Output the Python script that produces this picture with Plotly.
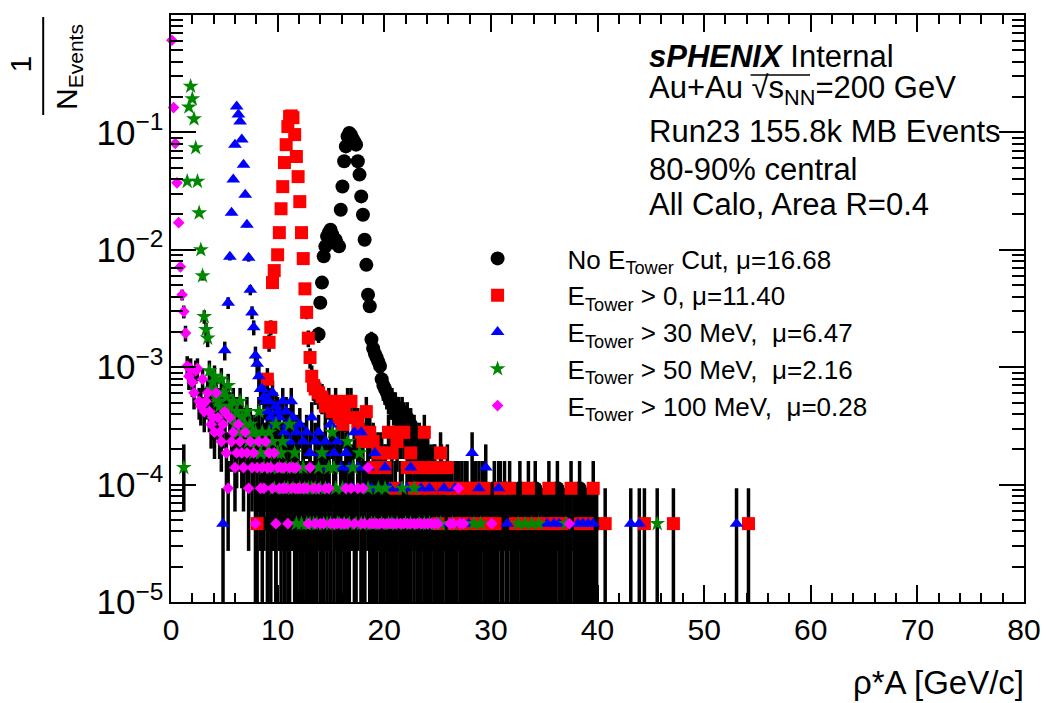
import math
import plotly.graph_objects as go

# normalisation: number of events in the 80-90% class
N_EVENTS = 21500

# ---------------- data: bin centre [GeV/c] and raw entries ----------------
# No E_Tower cut
nocut_x = [8.56, 9.04, 9.36, 9.84, 10.32, 10.64, 11.12, 11.60, 12.08, 12.40, 12.72, 13.20,
           13.52,
           13.84, 14.00, 14.16, 14.32, 14.48, 14.64, 14.80, 14.96, 15.12, 15.28, 15.44, 15.60,
           15.76, 15.92, 16.08, 16.24, 16.40, 16.56, 16.72, 16.88, 17.04, 17.20, 17.36, 17.52,
           17.68, 17.84, 18.00, 18.16, 18.32, 18.48, 18.64, 18.80, 18.96, 19.12, 19.28, 19.44,
           19.60, 19.76, 19.92, 20.08, 20.24, 20.40, 20.56, 20.72, 20.88, 21.04, 21.20, 21.36,
           21.52, 21.68, 21.84, 22.00, 22.16, 22.32, 22.48, 22.64, 22.80, 22.96, 23.12, 23.28,
           23.44, 23.60, 23.76, 23.92, 24.08, 24.24, 24.40, 24.56, 24.72, 24.88, 25.04, 25.20,
           25.36, 25.52, 25.68, 25.84, 26.00, 26.16, 26.32, 26.48, 26.64, 26.80, 26.96, 27.12,
           27.28, 27.44, 27.60, 27.76, 27.92, 28.08, 28.24, 28.40, 28.56, 28.72, 29.04, 29.20,
           29.36, 29.52, 29.68, 30.00, 30.16, 30.32, 30.48, 30.64, 30.96, 31.12, 31.28, 31.44,
           31.60, 31.92, 32.08, 32.24, 32.40, 32.72, 32.88, 33.04, 33.36, 33.52, 33.68, 34.00,
           34.16, 34.32, 34.64, 34.80, 34.96, 35.28, 35.60, 35.76, 36.08, 36.24, 36.56, 36.72,
           37.04, 37.20, 37.52, 37.84, 38.00, 38.32, 38.48, 38.80, 38.96, 39.28, 39.44, 39.76,
           39.92]
nocut_n = [1, 1, 1, 1, 1, 1, 1, 1, 1, 1, 1, 1,
           1,
           41, 76, 113, 189, 230, 280, 300, 319, 290, 250, 262, 240,
           230, 472, 745, 1220, 1634, 1990, 2130, 2050, 1900, 1790, 1690, 1220,
           940, 613, 428, 262, 160, 89, 71, 37, 31, 28, 26, 24,
           22, 17, 15, 14, 13, 12, 11, 11, 10, 10, 9, 9,
           8, 9, 8, 7, 8, 6, 7, 5, 6, 5, 4, 5,
           4, 3, 4, 3, 4, 2, 3, 2, 3, 2, 2, 1,
           3, 1, 2, 1, 2, 1, 2, 1, 1, 1, 2, 1,
           2, 1, 1, 2, 1, 1, 1, 2, 1, 1, 1, 2,
           1, 1, 1, 1, 1, 2, 1, 1, 1, 1, 2, 1,
           1, 1, 1, 1, 1, 2, 1, 1, 1, 1, 1, 1,
           2, 1, 1, 1, 1, 1, 1, 1, 1, 2, 1, 1,
           1, 1, 1, 1, 1, 2, 1, 1, 1, 1, 1, 1,
           1]

# E_Tower > 0
e0_x = [8.08, 9.04, 9.20, 9.36, 9.52, 9.68, 10.00, 10.16, 10.32, 10.48, 10.64, 10.80,
        10.96, 11.12, 11.28, 11.44, 11.60, 11.76, 11.92, 12.08, 12.24, 12.40, 12.56, 12.72,
        12.88, 13.04, 13.20, 13.36, 13.52, 13.84, 14.16, 14.48, 14.80, 15.12, 15.44, 15.76,
        16.08, 16.24, 16.56, 16.88, 17.20, 17.52, 17.84, 18.00, 18.32, 18.64, 18.96, 19.12,
        19.44, 19.76, 20.08, 20.40, 20.72, 21.04, 21.20, 21.52, 21.84, 22.16, 22.48, 22.80,
        23.12, 23.44, 23.76, 24.08, 24.40, 24.72, 25.04, 25.28, 25.60, 25.92, 26.24, 26.56,
        26.88, 27.28, 27.60, 28.08, 28.56, 29.04, 29.36, 29.84, 30.40, 30.88, 31.76, 32.32,
        33.04, 33.52, 34.24, 35.12, 35.44, 36.08, 36.64, 37.52, 38.40, 39.04, 39.60, 40.72,
        44.40, 47.12, 54.16]
e0_n = [1, 17, 35, 47, 113, 143, 195, 301, 481, 742, 1190, 1690,
        2410, 2930, 2970, 2870, 2060, 1340, 903, 553, 301, 181, 100, 63,
        38, 26, 18, 15, 14, 13, 12, 10, 11, 9, 11, 8,
        7, 9, 11, 11, 8, 7, 6, 5, 9, 6, 5, 3,
        4, 4, 3, 6, 4, 2, 5, 6, 6, 3, 4, 2,
        3, 2, 6, 3, 2, 3, 1, 4, 2, 3, 2, 1,
        2, 1, 2, 1, 2, 1, 2, 1, 1, 2, 2, 1,
        1, 2, 1, 1, 2, 1, 1, 2, 1, 1, 2, 1,
        1, 1, 1]

# E_Tower > 30 MeV
e30_x = [4.88, 5.04, 5.36, 5.52, 5.68, 5.84, 6.00, 6.16, 6.32, 6.48, 6.64, 6.80,
         6.96, 7.12, 7.28, 7.44, 7.60, 7.76, 7.92, 8.08, 8.24, 8.40, 8.56, 8.72,
         8.88, 9.04, 9.20, 9.36, 9.52, 9.68, 9.84, 10.00, 10.16, 10.48, 10.64, 10.80,
         10.96, 11.12, 11.28, 11.44, 11.76, 12.08, 12.40, 12.72, 13.04, 13.20, 13.52, 13.84,
         14.16, 14.48, 14.80, 14.96, 15.28, 15.60, 15.92, 16.24, 16.40, 16.72, 17.04, 17.20,
         17.52, 17.84, 18.16, 18.48, 18.80, 19.12, 19.44, 19.76, 20.08, 20.40, 20.56, 21.04,
         21.52, 21.84, 22.16, 22.48, 23.12, 23.44, 23.76, 24.24, 24.72, 25.20, 25.60, 26.16,
         26.64, 27.28, 27.92, 28.24, 28.88, 29.52, 30.72, 31.52, 35.28, 35.92, 36.40, 38.16,
         38.64, 39.12, 39.60, 43.12, 43.92, 53.04]
e30_n = [1, 30, 76, 188, 445, 852, 1690, 3570, 3050, 2660, 1870, 1140,
         634, 352, 184, 98, 63, 47, 27, 23, 18, 14, 14, 12,
         11, 9, 11, 8, 13, 7, 10, 9, 8, 11, 6, 9,
         7, 5, 11, 8, 6, 7, 5, 6, 4, 8, 5, 6,
         4, 5, 3, 7, 4, 5, 3, 2, 4, 3, 2, 6,
         3, 6, 2, 3, 2, 4, 2, 1, 3, 2, 2, 1,
         2, 1, 2, 3, 1, 2, 1, 2, 1, 1, 2, 1,
         2, 1, 1, 4, 2, 3, 2, 1, 1, 1, 1, 1,
         1, 1, 1, 1, 1, 1]

# E_Tower > 50 MeV
e50_x = [1.20, 1.52, 1.68, 1.84, 2.00, 2.16, 2.32, 2.48, 2.64, 2.80, 2.96, 3.12,
         3.28, 3.44, 3.60, 3.76, 3.92, 4.08, 4.24, 4.40, 4.56, 4.72, 4.88, 5.04,
         5.20, 5.36, 5.52, 5.68, 5.84, 6.00, 6.16, 6.32, 6.48, 6.64, 6.80, 6.96,
         7.12, 7.28, 7.44, 7.60, 7.76, 7.92, 8.08, 8.24, 8.40, 8.56, 8.72, 8.88,
         9.04, 9.20, 9.36, 9.52, 9.68, 9.84, 10.00, 10.16, 10.32, 10.48, 10.64, 10.80,
         10.96, 11.12, 11.28, 11.44, 11.60, 11.76, 11.92, 12.08, 12.24, 12.40, 12.56, 12.72,
         12.88, 13.04, 13.20, 13.36, 13.52, 13.68, 13.84, 14.00, 14.16, 14.32, 14.48, 14.64,
         14.80, 14.96, 15.12, 15.28, 15.44, 15.60, 15.76, 16.08, 16.24, 16.56, 16.72, 17.04,
         17.36, 17.68, 17.84, 18.16, 18.48, 18.80, 19.12, 19.44, 19.76, 20.08, 20.40, 20.72,
         21.20, 21.68, 22.00, 22.48, 22.80, 23.28, 23.76, 24.24, 24.88, 25.28, 26.40, 28.40,
         29.04, 32.56, 33.20, 33.84, 34.48, 37.04, 45.60]
e50_n = [3, 823, 3540, 5310, 4150, 2800, 1590, 823, 443, 215, 129, 58,
         45, 38, 20, 14, 16, 18, 12, 11, 10, 17, 13, 9,
         12, 15, 10, 8, 11, 7, 9, 6, 11, 8, 6, 7,
         9, 5, 7, 6, 4, 6, 5, 9, 4, 6, 3, 5,
         4, 6, 3, 5, 2, 7, 4, 3, 4, 5, 2, 3,
         2, 7, 3, 2, 4, 1, 3, 2, 1, 3, 2, 1,
         2, 1, 2, 1, 2, 1, 3, 2, 4, 1, 2, 1,
         3, 1, 6, 3, 2, 1, 1, 2, 1, 5, 1, 3,
         1, 4, 1, 1, 2, 1, 1, 2, 1, 2, 1, 1,
         1, 2, 1, 1, 2, 1, 1, 1, 1, 1, 1, 1,
         1, 1, 1, 1, 1, 1, 1]

# E_Tower > 100 MeV
e100_x = [0.08, 0.24, 0.40, 0.56, 0.72, 0.88, 1.04, 1.20, 1.36, 1.52, 1.68, 1.84,
          2.00, 2.16, 2.32, 2.48, 2.64, 2.80, 2.96, 3.12, 3.28, 3.44, 3.60, 3.76,
          3.92, 4.08, 4.24, 4.40, 4.56, 4.72, 4.88, 5.04, 5.20, 5.36, 5.52, 5.68,
          5.84, 6.00, 6.16, 6.32, 6.48, 6.64, 6.80, 6.96, 7.12, 7.28, 7.44, 7.60,
          7.76, 7.92, 8.08, 8.24, 8.40, 8.56, 8.72, 8.88, 9.04, 9.20, 9.36, 9.52,
          9.68, 9.84, 10.00, 10.16, 10.32, 10.48, 10.64, 10.80, 10.96, 11.12, 11.28, 11.44,
          11.60, 11.76, 11.92, 12.08, 12.40, 12.72, 12.88, 13.04, 13.36, 13.52, 13.84, 14.00,
          14.32, 14.48, 14.80, 14.96, 15.28, 15.60, 15.92, 16.24, 16.40, 16.56, 16.88, 17.20,
          17.52, 17.84, 18.00, 18.16, 18.48, 18.64, 18.96, 19.28, 19.60, 19.92, 20.24, 20.56,
          20.88, 21.20, 21.52, 21.84, 22.16, 22.48, 22.80, 23.12, 23.44, 23.76, 24.08, 24.40,
          24.72, 25.04, 26.16, 26.48, 26.96, 27.12, 27.44, 30.08, 37.36]
e100_n = [13100, 3500, 1730, 800, 366, 154, 89, 64, 42, 22, 18, 21,
          16, 13, 20, 21, 11, 10, 17, 9, 11, 13, 9, 7,
          8, 6, 13, 8, 6, 5, 7, 9, 4, 2, 8, 5,
          6, 3, 4, 7, 5, 4, 3, 6, 4, 2, 5, 3,
          4, 1, 3, 5, 2, 3, 2, 5, 3, 4, 3, 2,
          4, 1, 3, 2, 3, 2, 3, 2, 1, 3, 2, 3,
          2, 3, 2, 2, 2, 2, 1, 3, 2, 1, 2, 1,
          1, 2, 2, 1, 1, 1, 1, 1, 2, 1, 2, 1,
          2, 1, 2, 1, 3, 1, 1, 1, 1, 1, 1, 1,
          1, 1, 1, 1, 1, 1, 1, 1, 1, 1, 1, 1,
          1, 1, 1, 1, 2, 1, 1, 1, 1]

series = [
    ("No E<sub>Tower</sub> Cut, μ=16.68", nocut_x, nocut_n, "circle", 14, "#000000"),
    ("E<sub>Tower</sub> &gt; 0, μ=11.40", e0_x, e0_n, "square", 13, "#ff0000"),
    ("E<sub>Tower</sub> &gt; 30 MeV,  μ=6.47", e30_x, e30_n, "triangle-up", 12, "#0000ff"),
    ("E<sub>Tower</sub> &gt; 50 MeV,  μ=2.16", e50_x, e50_n, "star", 12, "#008800"),
    ("E<sub>Tower</sub> &gt; 100 MeV,  μ=0.28", e100_x, e100_n, "diamond", 9, "#ff00ff"),
]

FONT = "Liberation Sans, Arial, Helvetica, sans-serif"
W, H = 1053, 703
L, R, T, B = 171, 21, 15, 101
PW, PH = W - L - R, H - T - B


def xp(px):
    return (px - L) / PW


def yp(py):
    return (H - B - py) / PH


fig = go.Figure()

# statistical error bars (sqrt of entries), drawn beneath all markers
for name, xs, ns, sym, size, col in series:
    ys = [n / N_EVENTS for n in ns]
    es = [math.sqrt(n) / N_EVENTS for n in ns]
    fig.add_trace(go.Scatter(
        x=xs, y=ys, mode="markers",
        marker=dict(size=1, color="rgba(0,0,0,0)"),
        error_y=dict(type="data", array=es, arrayminus=es, color="black",
                     thickness=3.5, width=0),
        showlegend=False, hoverinfo="skip"))

# markers
for name, xs, ns, sym, size, col in series:
    ys = [n / N_EVENTS for n in ns]
    fig.add_trace(go.Scatter(
        x=xs, y=ys, mode="markers", name=name,
        marker=dict(symbol=sym, size=size, color=col, line=dict(width=0)),
        cliponaxis=False))

axis_common = dict(
    showline=True, linecolor="black", linewidth=2, mirror="allticks",
    ticks="inside", tickcolor="black", tickwidth=1.5,
    showgrid=False, zeroline=False,
)

fig.update_xaxes(range=[0, 80], tick0=0, dtick=10, ticklen=17,
                 tickfont=dict(family=FONT, size=30, color="black"),
                 minor=dict(dtick=2, ticks="inside", ticklen=9, tickwidth=1.5,
                            tickcolor="black", showgrid=False),
                 **axis_common)
fig.update_yaxes(type="log", range=[-5, 0], tick0=0, dtick=1, ticklen=25,
                 exponentformat="power",
                 tickfont=dict(family=FONT, size=28, color="black"),
                 minor=dict(dtick="D1", ticks="inside", ticklen=12, tickwidth=1.5,
                            tickcolor="black", showgrid=False),
                 **axis_common)

ann = []
# axis titles
ann.append(dict(text="ρ*A [GeV/c]", x=xp(1034), y=yp(682), xanchor="right",
                yanchor="middle", showarrow=False, font=dict(size=33)))
ann.append(dict(text="1", x=xp(20), y=yp(64), textangle=-90, xanchor="center",
                yanchor="middle", showarrow=False, font=dict(size=30)))
ann.append(dict(text="N<sub>Events</sub>", x=xp(68), y=yp(67), textangle=-90,
                xanchor="center", yanchor="middle", showarrow=False, font=dict(size=30)))

# label block
lines = [
    ("<b><i>sPHENIX</i></b> Internal", 57),
    ("Au+Au √s<sub>NN</sub>=200 GeV", 90),
    ("Run23 155.8k MB Events", 131),
    ("80-90% central", 169),
    ("All Calo, Area R=0.4", 204),
]
for txt, y in lines:
    ann.append(dict(text=txt, x=xp(651), y=yp(y), xanchor="left", yanchor="middle",
                    showarrow=False, font=dict(size=31)))

for a in ann:
    a["xref"] = "paper"
    a["yref"] = "paper"
    a.setdefault("font", {})
    a["font"].update(family=FONT, color="black")

shapes = [
    # fraction bar of the y-axis title
    dict(type="line", xref="paper", yref="paper",
         x0=xp(42), x1=xp(42), y0=yp(17), y1=yp(115),
         line=dict(color="black", width=2)),
    # vinculum of the square root
    dict(type="line", xref="paper", yref="paper",
         x0=xp(756), x1=xp(816), y0=yp(75), y1=yp(75),
         line=dict(color="black", width=1.5)),
]

fig.update_layout(
    width=W, height=H,
    margin=dict(l=L, r=R, t=T, b=B),
    paper_bgcolor="white", plot_bgcolor="white",
    font=dict(family=FONT, color="black"),
    annotations=ann,
    shapes=shapes,
    showlegend=True,
    legend=dict(x=xp(430), y=yp(235), xanchor="left", yanchor="top",
                bgcolor="rgba(0,0,0,0)", borderwidth=0, itemwidth=130,
                font=dict(family=FONT, size=26, color="black")),
)

fig.write_html("out.html")
